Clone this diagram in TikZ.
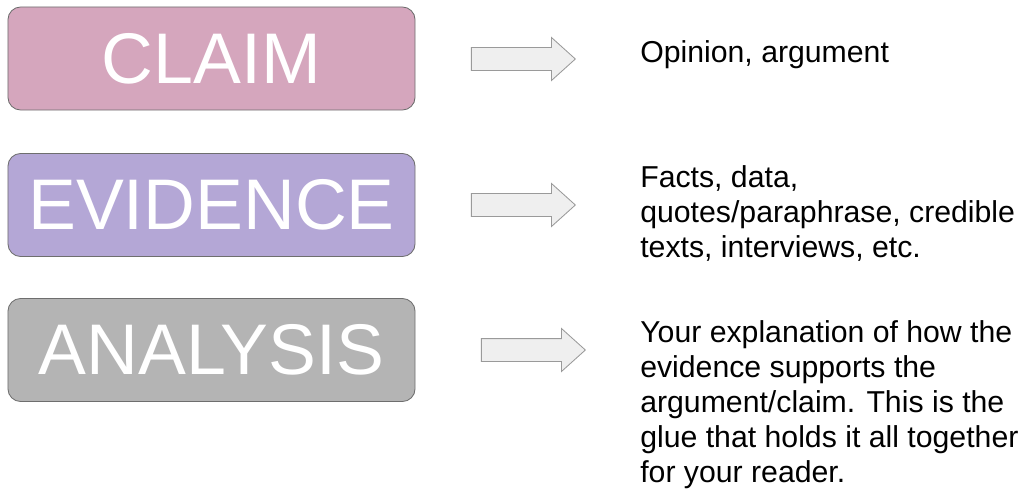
\documentclass[tikz,border=0pt]{standalone}
\usepackage{fontspec}
\setmainfont{Liberation Sans}
\usetikzlibrary{positioning,shapes.arrows}
\definecolor{claimFill}{HTML}{D5A6BD}
\definecolor{evidFill}{HTML}{B4A7D6}
\definecolor{anaFill}{HTML}{B4B4B4}
\definecolor{boxEdge}{HTML}{6E6E6E}
\definecolor{arrowFill}{HTML}{EFEFEF}
\definecolor{arrowEdge}{HTML}{9A9A9A}
\tikzset{
  termbox/.style={draw=boxEdge, rounded corners=9pt, line width=0.6pt,
                  text=white, minimum width=10.175cm, minimum height=2.575cm,
                  font=\fontsize{51}{51}\selectfont, inner sep=0pt},
  pointer/.style={single arrow, draw=arrowEdge, fill=arrowFill, line width=0.6pt,
                  minimum height=2.6cm, inner xsep=0pt, inner ysep=0.275cm,
                  single arrow head extend=0.25cm,
                  single arrow tip angle=84},
  gloss/.style={anchor=west, align=left, text=black, inner sep=0pt,
                font=\fontsize{21.5}{24.9}\selectfont}
}

\begin{document}
\begin{tikzpicture}[x=0.025cm, y=-0.025cm]
\useasboundingbox (0,0) rectangle (1026,500);

% ------------------------------------------------------------
% TERMS
% ------------------------------------------------------------
\node[termbox, fill=claimFill] (claim) at (211.5,58.5) {CLAIM};
\node[termbox, fill=evidFill]  (evid)  at (211.5,205) {EVIDENCE};
\node[termbox, fill=anaFill]   (ana)   at (211.5,350) {ANALYSIS};

% ------------------------------------------------------------
% ARROWS
% ------------------------------------------------------------
\node[pointer] (claimArr) at (517,59) {};
\node[pointer] (evidArr)  at (517,205) {};
\node[pointer] (anaArr)   at (527,350) {};

% ------------------------------------------------------------
% MEANINGS
% ------------------------------------------------------------
\node[gloss] (claimTxt) at (640,55) {Opinion, argument};
\node[gloss] (evidTxt)  at (640,213)
{Facts, data,\\quotes/paraphrase, credible\\texts, interviews, etc.};
\node[gloss] (anaTxt)   at (640,405)
{Your explanation of how the\\evidence supports the\\argument/claim. This is the\\glue that holds it all together\\for your reader.};

\end{tikzpicture}
\end{document}
